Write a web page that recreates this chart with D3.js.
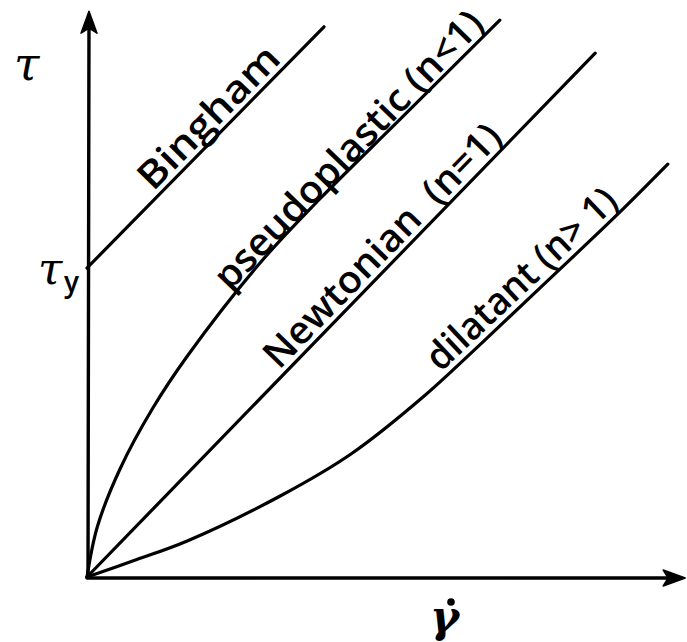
<!DOCTYPE html>
<html>
<head>
<meta charset="utf-8">
<script src="https://cdn.jsdelivr.net/npm/d3@7"></script>
<style>
  html, body { margin: 0; padding: 0; background: #fff; }
  svg { display: block; }
  .lbl { font-family: "Open Sans", sans-serif; font-weight: 600; font-size: 38px; fill: #000; }
</style>
</head>
<body>
<svg id="chart" width="687" height="642"></svg>
<script>
// Shear rate (x) and shear stress (y) in arbitrary units
const binghamX = [0, 39.5];
const binghamY = [51.5, 91.7];

const pseudoX = [0, 1.7, 5.5, 11, 16.7, 28.8, 38.8, 52.2, 68.8];
const pseudoY = [0, 8.3, 18, 28.2, 36.8, 52.3, 63, 76.3, 92.8];

const newtonX = [0, 84.7];
const newtonY = [0, 87.3];

const dilatX = [0, 8.3, 16.7, 32.2, 44, 56, 66, 76.7, 88.8, 96.8];
const dilatY = [0, 2.9, 6, 13.5, 20.5, 30, 39.2, 49.3, 60.8, 68.8];

const seriesNames = ["Bingham", "pseudoplastic (n<1)", "Newtonian  (n=1)", "dilatant (n> 1)"];

const x = d3.scaleLinear().domain([0, 100]).range([87, 687]);
const y = d3.scaleLinear().domain([0, 95]).range([577, 7]);

const svg = d3.select("#chart");

const series = [
  { name: seriesNames[0], xs: binghamX, ys: binghamY, span: [11.7, 33.3] },
  { name: seriesNames[1], xs: pseudoX, ys: pseudoY, span: [24.5, 67.2] },
  { name: seriesNames[2], xs: newtonX, ys: newtonY, span: [32.7, 70.2] },
  { name: seriesNames[3], xs: dilatX, ys: dilatY, span: [59.6, 89.5] }
];

const line = d3.line()
  .x(d => x(d[0]))
  .y(d => y(d[1]))
  .curve(d3.curveCatmullRom.alpha(0.5));

// Axes with arrowheads
const axisG = svg.append("g").attr("stroke", "#000").attr("fill", "none")
  .attr("stroke-width", 3.4).attr("stroke-linecap", "round");
axisG.append("line")
  .attr("x1", x(0)).attr("y1", y(0) + 1)
  .attr("x2", x(99)).attr("y2", y(0) + 1);
axisG.append("line")
  .attr("x1", x(0) + 1).attr("y1", y(0))
  .attr("x2", x(0) + 2).attr("y2", y(93.5));

// y arrow head
const ty = [x(0) + 2, y(94.3)];
svg.append("path")
  .attr("d", `M${ty[0]},${ty[1]} L${ty[0] + 8},${ty[1] + 22} L${ty[0]},${ty[1] + 17} L${ty[0] - 8},${ty[1] + 22} Z`)
  .attr("fill", "#000").attr("stroke", "#000").attr("stroke-width", 1.5).attr("stroke-linejoin", "round");
// x arrow head
const tx = [x(99.7), y(0) + 1];
svg.append("path")
  .attr("d", `M${tx[0]},${tx[1]} L${tx[0] - 22},${tx[1] - 8} L${tx[0] - 17},${tx[1]} L${tx[0] - 22},${tx[1] + 8} Z`)
  .attr("fill", "#000").attr("stroke", "#000").attr("stroke-width", 1.5).attr("stroke-linejoin", "round");

// Flow curves
svg.append("g").selectAll("path")
  .data(series)
  .join("path")
  .attr("d", s => line(s.xs.map((v, i) => [v, s.ys[i]])))
  .attr("fill", "none")
  .attr("stroke", "#000")
  .attr("stroke-width", 3.2)
  .attr("stroke-linecap", "round");

// Straight-line interpolation along each curve's points
function valueAt(s, xv) {
  for (let i = 1; i < s.xs.length; i++) {
    if (xv <= s.xs[i]) {
      const t = (xv - s.xs[i - 1]) / (s.xs[i] - s.xs[i - 1]);
      return s.ys[i - 1] + t * (s.ys[i] - s.ys[i - 1]);
    }
  }
  return s.ys[s.ys.length - 1];
}

// Curve labels, written along each curve
series.forEach(s => {
  const p0 = [x(s.span[0]), y(valueAt(s, s.span[0]))];
  const p1 = [x(s.span[1]), y(valueAt(s, s.span[1]))];
  const ang = Math.atan2(p1[1] - p0[1], p1[0] - p0[0]) * 180 / Math.PI;
  const len = Math.hypot(p1[0] - p0[0], p1[1] - p0[1]);
  const t = svg.append("text")
    .attr("class", "lbl")
    .attr("transform", `translate(${p0[0]},${p0[1]}) rotate(${ang}) translate(0,-6)`)
    .style("white-space", "pre")
    .text(s.name);
  // fit each label to its span along the curve
  t.attr("textLength", len).attr("lengthAdjust", "spacingAndGlyphs");
});

// Axis symbols
const sym = svg.append("g").attr("font-family", "DejaVu Serif, serif").attr("font-style", "italic").attr("fill", "#000");
sym.append("text").attr("x", 14).attr("y", 80).attr("font-size", 46).text("τ");
sym.append("text").attr("x", 38).attr("y", 284).attr("font-size", 44).text("τ");
sym.append("text").attr("x", 64).attr("y", 292).attr("font-size", 28).attr("font-family", "Open Sans, sans-serif")
  .attr("font-weight", 600).attr("font-style", "normal").text("y");
sym.append("text").attr("x", 430).attr("y", 632).attr("font-size", 44).attr("font-weight", "bold").text("γ");
sym.append("circle").attr("cx", 451).attr("cy", 602).attr("r", 3.8);
</script>
</body>
</html>
